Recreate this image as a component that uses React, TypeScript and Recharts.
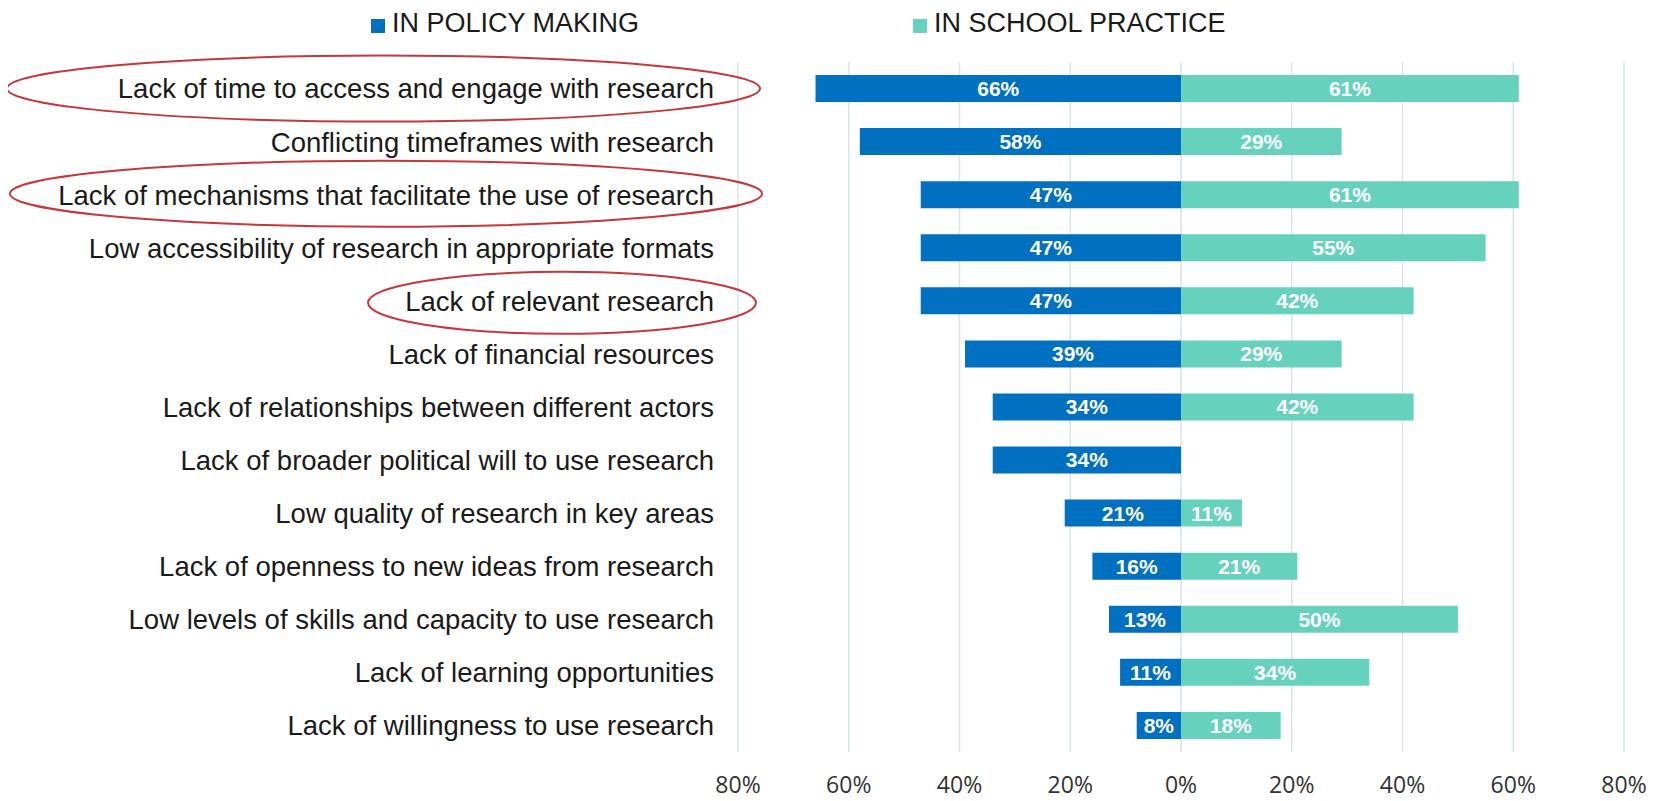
import { Bar, BarChart, CartesianGrid, LabelList, XAxis, YAxis } from "recharts";

const categories = [
  "Lack of time to access and engage with research",
  "Conflicting timeframes with research",
  "Lack of mechanisms that facilitate the use of research",
  "Low accessibility of research in appropriate formats",
  "Lack of relevant research",
  "Lack of financial resources",
  "Lack of relationships between different actors",
  "Lack of broader political will to use research",
  "Low quality of research in key areas",
  "Lack of openness to new ideas from research",
  "Low levels of skills and capacity to use research",
  "Lack of learning opportunities",
  "Lack of willingness to use research",
];

const policyMaking = [66, 58, 47, 47, 47, 39, 34, 34, 21, 16, 13, 11, 8];
const schoolPractice = [61, 29, 61, 55, 42, 29, 42, 0, 11, 21, 50, 34, 18];

const xTicks = [-80, -60, -40, -20, 0, 20, 40, 60, 80];

const seriesNames = ["IN POLICY MAKING", "IN SCHOOL PRACTICE"];

const BLUE = "#0070C0";
const TEAL = "#66D2BE";
const LABEL_FONT = "'Liberation Sans', Arial, sans-serif";
const VALUE_FONT = "'Liberation Sans Narrow', 'Arial Narrow', 'Liberation Sans', sans-serif";

// hand-drawn red ellipses around some labels (offsets from tick anchor)
const circled: Record<number, { left: number; right: number; ry: number; dy: number }> = {
  0: { left: 707, right: 46, ry: 33, dy: 0 },
  2: { left: 704, right: 48, ry: 33, dy: -1 },
  4: { left: 346, right: 42, ry: 31, dy: 2 },
};

const data = categories.map((name, i) => ({
  name,
  policy: -policyMaking[i],
  school: schoolPractice[i],
}));

const CategoryTick = (props: any) => {
  const { x, y, payload } = props;
  const idx = categories.indexOf(payload.value);
  const ring = circled[idx];
  return (
    <g>
      {ring && (
        <ellipse
          cx={x - (ring.left - ring.right) / 2}
          cy={y + ring.dy}
          rx={(ring.left + ring.right) / 2}
          ry={ring.ry}
          fill="none"
          stroke="#C8363C"
          strokeWidth={2}
        />
      )}
      <text
        x={x}
        y={y}
        dy="0.36em"
        textAnchor="end"
        fontSize={27.5}
        fontFamily={LABEL_FONT}
        fill="#1a1a1a"
      >
        {payload.value}
      </text>
    </g>
  );
};

const pct = (v: any) => (v === 0 ? "" : `${Math.abs(v)}%`);

const App = () => {
  const legendItems = [
    { name: seriesNames[0], color: BLUE, left: 363, sq: 14 },
    { name: seriesNames[1], color: TEAL, left: 905, sq: 14 },
  ];

  return (
    <div style={{ position: "relative", width: 1638, height: 793 }}>
      {legendItems.map((item) => (
        <div
          key={item.name}
          style={{
            position: "absolute",
            top: 2,
            left: item.left,
            display: "flex",
            alignItems: "center",
            fontFamily: LABEL_FONT,
            fontSize: 27,
            lineHeight: "27px",
            color: "#1a1a1a",
          }}
        >
          <span
            style={{
              display: "inline-block",
              width: item.sq,
              height: item.sq,
              background: item.color,
              marginRight: 7,
              marginTop: 4,
            }}
          />
          {item.name}
        </div>
      ))}
      <BarChart
        width={1638}
        height={793}
        data={data}
        layout="vertical"
        stackOffset="sign"
        barSize={27}
        margin={{ top: 54, right: 22, bottom: 0, left: 0 }}
      >
        <CartesianGrid horizontal={false} stroke="#D9E3EC" strokeWidth={1.5} />
        <XAxis
          type="number"
          domain={[-80, 80]}
          ticks={xTicks}
          interval={0}
          tickFormatter={(v) => `${Math.abs(v)}%`}
          axisLine={false}
          tickLine={false}
          tickSize={0}
          tickMargin={25}
          height={49}
          tick={{ fontSize: 23, fill: "#333", fontFamily: "'Open Sans', sans-serif" }}
        />
        <YAxis
          type="category"
          dataKey="name"
          width={730}
          interval={0}
          axisLine={false}
          tickLine={false}
          tickSize={0}
          tickMargin={24}
          tick={<CategoryTick />}
        />
        <Bar dataKey="policy" name={seriesNames[0]} stackId="a" fill={BLUE} isAnimationActive={false}>
          <LabelList
            dataKey="policy"
            position="center"
            formatter={pct}
            fill="#fff"
            fontSize={21}
            fontWeight="bold"
            fontFamily={VALUE_FONT}
          />
        </Bar>
        <Bar dataKey="school" name={seriesNames[1]} stackId="a" fill={TEAL} isAnimationActive={false}>
          <LabelList
            dataKey="school"
            position="center"
            formatter={pct}
            fill="#fff"
            fontSize={21}
            fontWeight="bold"
            fontFamily={VALUE_FONT}
          />
        </Bar>
      </BarChart>
    </div>
  );
};

export default App;
